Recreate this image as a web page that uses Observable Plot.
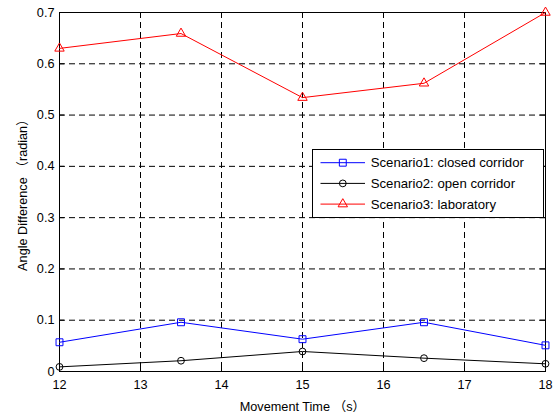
<!DOCTYPE html>
<html><head><meta charset="utf-8">
<script src="https://cdn.jsdelivr.net/npm/d3@7"></script>
<script src="https://cdn.jsdelivr.net/npm/@observablehq/plot@0.6"></script>
<style>html,body{margin:0;padding:0;background:#fff} svg{display:block}</style>
</head><body><div id="chart"></div>
<script>
const times = [12, 13.5, 15, 16.5, 18];
const seriesNames = ["Scenario1: closed corridor", "Scenario2: open corridor", "Scenario3: laboratory"];
const scenario1 = [0.057, 0.096, 0.063, 0.096, 0.051];
const scenario2 = [0.009, 0.021, 0.039, 0.026, 0.015];
const scenario3 = [0.630, 0.659, 0.534, 0.562, 0.700];
const seriesColors = ["#0000ff", "#000000", "#ff0000"];
const seriesSymbols = ["square", "circle", "triangle"];
const xTicks = [12, 13, 14, 15, 16, 17, 18];
const yTicks = [0, 0.1, 0.2, 0.3, 0.4, 0.5, 0.6, 0.7];
const xLabel = "Movement Time （s）";
const yLabel = "Angle Difference （radian）";

const markerR = {square: 3.9, circle: 3.4, triangle: 3.5};
const rows = [];
[scenario1, scenario2, scenario3].forEach((vals, i) =>
  vals.forEach((v, j) => rows.push({series: seriesNames[i], t: times[j], v, r: markerR[seriesSymbols[i]]})));

const W = 556, H = 412, mL = 59, mR = 11, mT = 12, mB = 41;
const plotH = H - mT - mB, plotW = W - mL - mR, tickLen = 5;
const font = '"Liberation Sans", Arial, "Noto Sans CJK SC", sans-serif';
const dash = "6,4";

const chart = Plot.plot({
  width: W, height: H,
  marginLeft: mL, marginRight: mR, marginTop: mT, marginBottom: mB,
  style: {fontFamily: font, fontSize: "12.7px", background: "#fff", color: "#000"},
  x: {domain: [12, 18]},
  y: {domain: [0, 0.7]},
  color: {domain: seriesNames, range: seriesColors},
  symbol: {domain: seriesNames, range: seriesSymbols},
  r: {type: "identity"},
  marks: [
    Plot.gridX(xTicks, {stroke: "#000", strokeOpacity: 1, strokeDasharray: dash}),
    Plot.gridY(yTicks, {stroke: "#000", strokeOpacity: 1, strokeDasharray: dash}),
    Plot.frame({stroke: "#000", strokeWidth: 1}),
    Plot.tickX(xTicks, {x: d => d, stroke: "#000", insetTop: plotH - tickLen}),
    Plot.tickX(xTicks, {x: d => d, stroke: "#000", insetBottom: plotH - tickLen}),
    Plot.tickY(yTicks, {y: d => d, stroke: "#000", insetRight: plotW - tickLen}),
    Plot.tickY(yTicks, {y: d => d, stroke: "#000", insetLeft: plotW - tickLen}),
    Plot.axisX(xTicks, {tickSize: 0, tickPadding: 8, tickFormat: d => String(d),
      label: xLabel, labelAnchor: "center", labelArrow: "none", labelOffset: 39}),
    Plot.axisY(yTicks, {tickSize: 0, tickPadding: 5, tickFormat: d => String(d),
      label: yLabel, labelAnchor: "center", labelArrow: "none", labelOffset: 42}),
    Plot.line(rows, {x: "t", y: "v", z: "series", stroke: "series", strokeWidth: 1}),
    Plot.dot(rows, {x: "t", y: "v", stroke: "series", symbol: "series", r: "r", fill: "none", strokeWidth: 1})
  ]
});

// legend (MATLAB style box)
const svg = d3.select(chart);
const lg = svg.append("g").attr("font-family", font).attr("font-size", "13.2px").attr("text-anchor", "start");
const box = {x: 312.5, y: 149.5, w: 231, h: 68};
lg.append("rect").attr("x", box.x).attr("y", box.y).attr("width", box.w).attr("height", box.h)
  .attr("fill", "#fff").attr("stroke", "#000");
const symMap = {square: d3.symbolSquare, circle: d3.symbolCircle, triangle: d3.symbolTriangle};
seriesNames.forEach((name, i) => {
  const cy = box.y + 13.2 + i * 20.7;
  const row = lg.append("g");
  row.append("line").attr("x1", 320.5).attr("x2", 365).attr("y1", cy).attr("y2", cy)
    .attr("stroke", seriesColors[i]).attr("stroke-width", 1);
  const r = markerR[seriesSymbols[i]];
  row.append("path").attr("d", d3.symbol(symMap[seriesSymbols[i]], Math.PI * r * r)())
    .attr("transform", `translate(342.8,${cy})`).attr("fill", "none").attr("stroke", seriesColors[i]);
  row.append("text").attr("x", 370.7).attr("y", cy).attr("dy", "0.35em")
    .attr("text-anchor", "start").attr("fill", "#000").text(name);
});

document.getElementById("chart").appendChild(chart);
</script>
</body></html>
